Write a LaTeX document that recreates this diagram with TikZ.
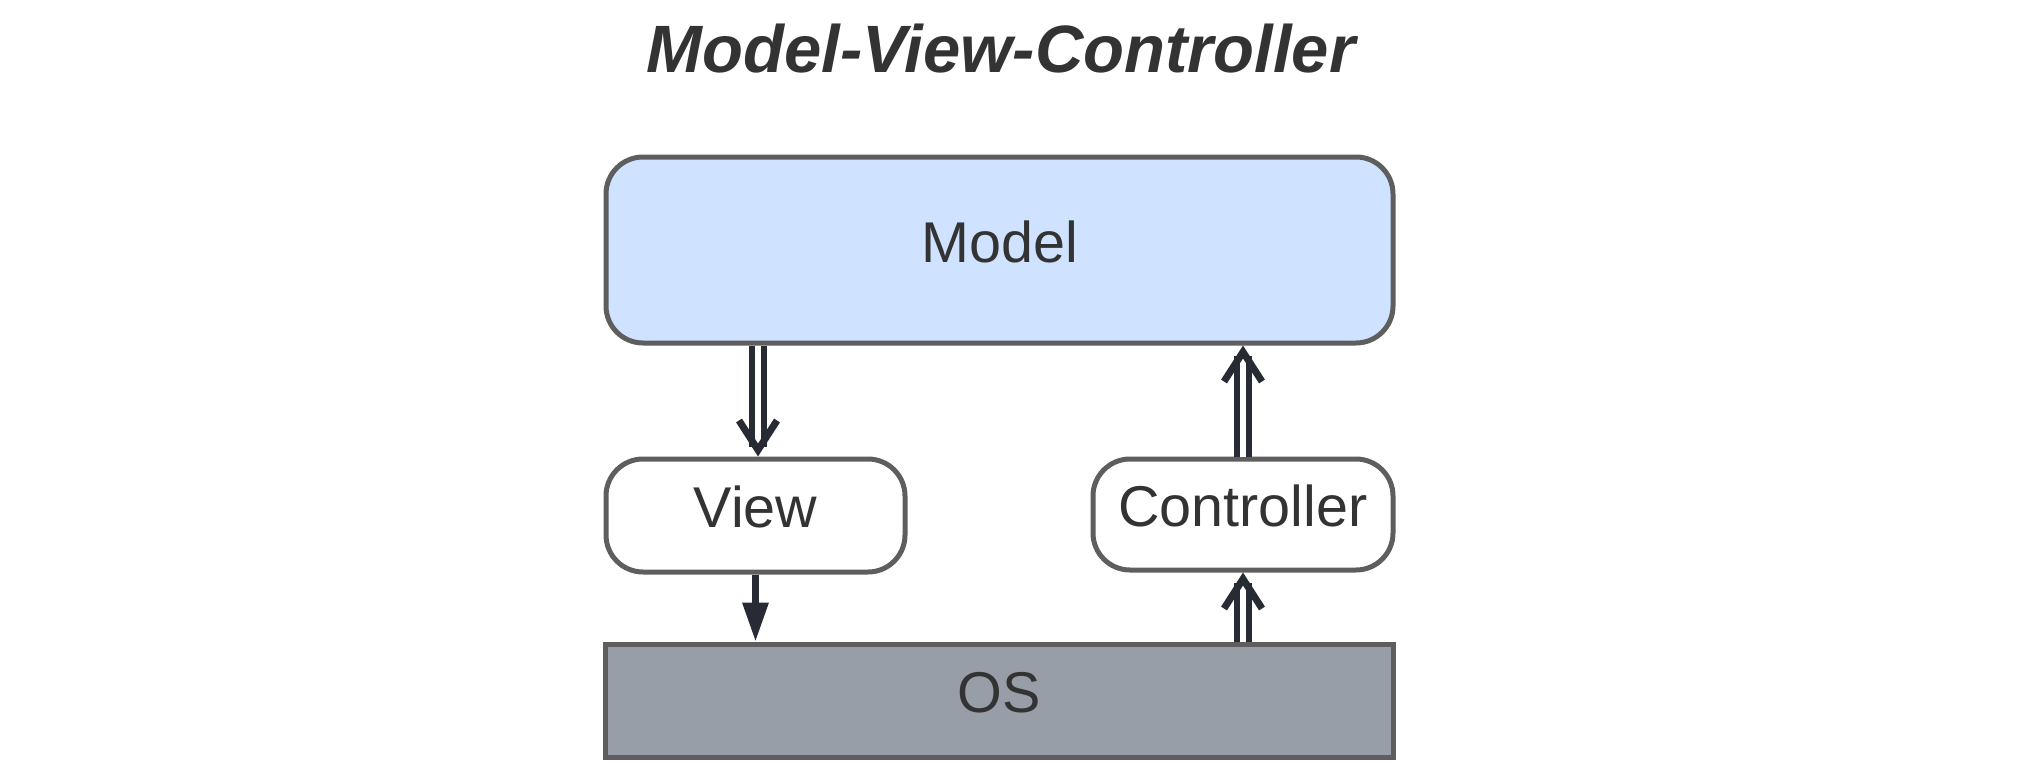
\documentclass[tikz,border=0pt]{standalone}
\usepackage{fontspec}
\setmainfont{Liberation Sans}
\usetikzlibrary{arrows.meta,calc}
\definecolor{strokegray}{HTML}{5E5E5E}
\definecolor{modelblue}{HTML}{CFE2FF}
\definecolor{osgray}{HTML}{979EA8}
\definecolor{arrowdark}{HTML}{272B33}
\definecolor{textdark}{HTML}{333333}
\tikzset{
  box/.style={draw=strokegray, line width=5pt, inner sep=0pt, text=textdark,
    font=\fontsize{57.5}{60}\selectfont, text height=42pt, text depth=18pt},
  roundbox/.style={box, rounded corners=37pt},
  dblconn/.style={draw=arrowdark, double=white, double distance=6.5pt, line width=5.5pt},
  chev/.style={draw=arrowdark, line width=7pt, line join=miter, line cap=butt},
  solidconn/.style={draw=arrowdark, line width=6.5pt, -{Triangle[length=39pt,width=25pt]}},
}
\begin{document}
\begin{tikzpicture}[x=1pt,y=-1pt]
\useasboundingbox (0,0) rectangle (2042,784);
\node[text=textdark, font=\fontsize{67}{70}\selectfont\bfseries\itshape, anchor=base, inner sep=0pt] (title) at (1001,72) {Model-View-Controller};

\node[roundbox, fill=modelblue, minimum width=787pt, minimum height=186pt] (m) at (999.5,250) {Model};
\node[roundbox, fill=white, minimum width=299pt, minimum height=113pt] (v) at (755.5,515.5) {View};
\node[roundbox, fill=white, minimum width=300pt, minimum height=111pt] (c) at (1243,514.5) {Controller};
\node[box, fill=osgray, minimum width=788pt, minimum height=113pt] (os) at (999,700.5) {OS};

% Model -> View
\coordinate (vtop) at ([xshift=2.5pt]v.north);
\draw[dblconn] (m.south -| vtop) -- ($(vtop)+(0,-10)$);
\draw[chev] ($(vtop)+(-19,-36)$) -- ($(vtop)+(0,-6.5)$) -- ($(vtop)+(19,-36)$);

% View -> OS
\draw[solidconn] (v.south) -- (os.north -| v.south);

% Controller -> Model
\coordinate (mbot) at (m.south -| c.north);
\draw[dblconn] (c.north) -- ($(mbot)+(0,10)$);
\draw[chev] ($(mbot)+(-19,36)$) -- ($(mbot)+(0,6.5)$) -- ($(mbot)+(19,36)$);

% OS -> Controller
\draw[dblconn] (os.north -| c.south) -- ($(c.south)+(0,10)$);
\draw[chev] ($(c.south)+(-19,36)$) -- ($(c.south)+(0,6.5)$) -- ($(c.south)+(19,36)$);
\end{tikzpicture}
\end{document}
